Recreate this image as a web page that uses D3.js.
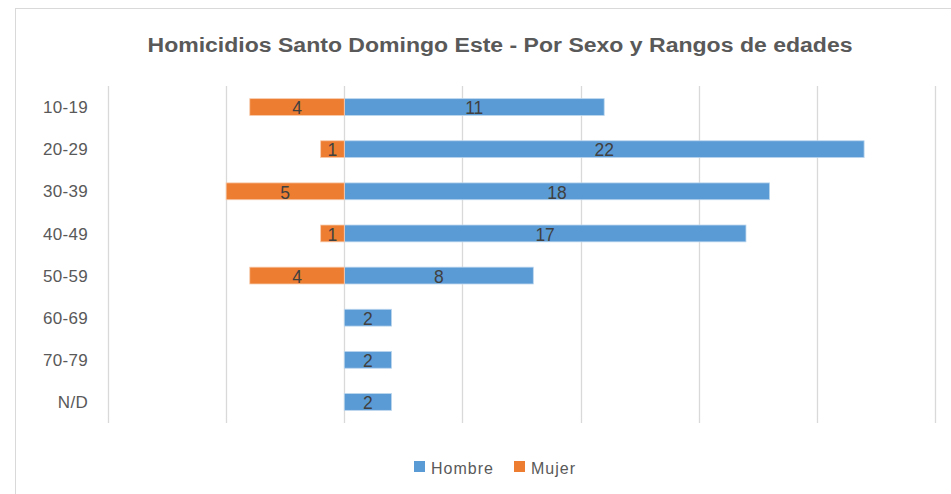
<!DOCTYPE html>
<html>
<head>
<meta charset="utf-8">
<script src="https://cdn.jsdelivr.net/npm/d3@7"></script>
<style>
  body { margin: 0; background: #fff; }
</style>
</head>
<body>
<svg id="chart" width="951" height="494"></svg>
<script>
// chart data
const categories = ["10-19", "20-29", "30-39", "40-49", "50-59", "60-69", "70-79", "N/D"];
const hombre = [11, 22, 18, 17, 8, 2, 2, 2];
const mujer = [4, 1, 5, 1, 4, 0, 0, 0];
const xTicks = [-10, -5, 0, 5, 10, 15, 20, 25];

const svg = d3.select("#chart");
const font = "Liberation Sans, Arial, sans-serif";

// outer chart frame
svg.append("rect")
    .attr("x", 15.5)
    .attr("y", 8.5)
    .attr("width", 960)
    .attr("height", 520)
    .attr("fill", "#fff")
    .attr("stroke", "#d9d9d9")
    .attr("stroke-width", 1);

// title
svg.append("text")
    .attr("x", 500)
    .attr("y", 52)
    .attr("text-anchor", "middle")
    .attr("font-family", font)
    .attr("font-size", "20px")
    .attr("font-weight", "bold")
    .attr("fill", "#595959")
    .attr("textLength", 705)
    .attr("lengthAdjust", "spacingAndGlyphs")
    .text("Homicidios Santo Domingo Este - Por Sexo y Rangos de edades");

// scales
const x = d3.scaleLinear().domain([-10, 25]).range([108, 935]);
const y = d3.scaleBand().domain(categories).range([86, 423]).paddingInner(0.6).paddingOuter(0.3);

// vertical gridlines
svg.selectAll("line.grid")
    .data(xTicks)
    .enter()
    .append("line")
    .attr("class", "grid")
    .attr("x1", d => Math.round(x(d)) + 0.5)
    .attr("x2", d => Math.round(x(d)) + 0.5)
    .attr("y1", 86)
    .attr("y2", 423)
    .attr("stroke", "#d9d9d9")
    .attr("stroke-width", 1.3);

// category labels
svg.selectAll("text.cat")
    .data(categories)
    .enter()
    .append("text")
    .attr("class", "cat")
    .attr("x", 88)
    .attr("y", d => y(d) + y.bandwidth() / 2)
    .attr("dy", "0.36em")
    .attr("text-anchor", "end")
    .attr("font-family", font)
    .attr("font-size", "17px")
    .attr("letter-spacing", "0.3px")
    .attr("fill", "#595959")
    .text(d => d);

// Hombre bars (right of zero)
const hData = categories.map((c, i) => ({ cat: c, v: hombre[i] }));
const mData = categories.map((c, i) => ({ cat: c, v: mujer[i] })).filter(d => d.v > 0);

svg.selectAll("rect.hombre")
    .data(hData)
    .enter()
    .append("rect")
    .attr("class", "hombre")
    .attr("x", x(0))
    .attr("y", d => y(d.cat))
    .attr("width", d => x(d.v) - x(0))
    .attr("height", y.bandwidth())
    .attr("fill", "#5b9bd5")
    .attr("stroke", "#bdd7ee")
    .attr("stroke-width", 0.8);

// Mujer bars (left of zero, drawn as negative)
svg.selectAll("rect.mujer")
    .data(mData)
    .enter()
    .append("rect")
    .attr("class", "mujer")
    .attr("x", d => x(-d.v))
    .attr("y", d => y(d.cat))
    .attr("width", d => x(0) - x(-d.v))
    .attr("height", y.bandwidth())
    .attr("fill", "#ed7d31")
    .attr("stroke", "#f8cbad")
    .attr("stroke-width", 0.8);

// value labels
svg.selectAll("text.hval")
    .data(hData)
    .enter()
    .append("text")
    .attr("class", "hval")
    .attr("x", d => (x(0) + x(d.v)) / 2)
    .attr("y", d => y(d.cat) + y.bandwidth() / 2 + 1)
    .attr("dy", "0.36em")
    .attr("text-anchor", "middle")
    .attr("font-family", font)
    .attr("font-size", "17.5px")
    .attr("fill", "#404040")
    .text(d => d.v);

svg.selectAll("text.mval")
    .data(mData)
    .enter()
    .append("text")
    .attr("class", "mval")
    .attr("x", d => (x(0) + x(-d.v)) / 2)
    .attr("y", d => y(d.cat) + y.bandwidth() / 2 + 1)
    .attr("dy", "0.36em")
    .attr("text-anchor", "middle")
    .attr("font-family", font)
    .attr("font-size", "17.5px")
    .attr("fill", "#404040")
    .text(d => d.v);

// legend
const legend = [
    { name: "Hombre", color: "#5b9bd5", x: 414 },
    { name: "Mujer", color: "#ed7d31", x: 514 }
];
legend.forEach(l => {
    svg.append("rect")
        .attr("x", l.x)
        .attr("y", 461)
        .attr("width", 11)
        .attr("height", 11)
        .attr("fill", l.color);
    svg.append("text")
        .attr("x", l.x + 17)
        .attr("y", 474)
        .attr("font-family", font)
        .attr("font-size", "16px")
        .attr("letter-spacing", "1px")
        .attr("fill", "#595959")
        .text(l.name);
});
</script>
</body>
</html>
